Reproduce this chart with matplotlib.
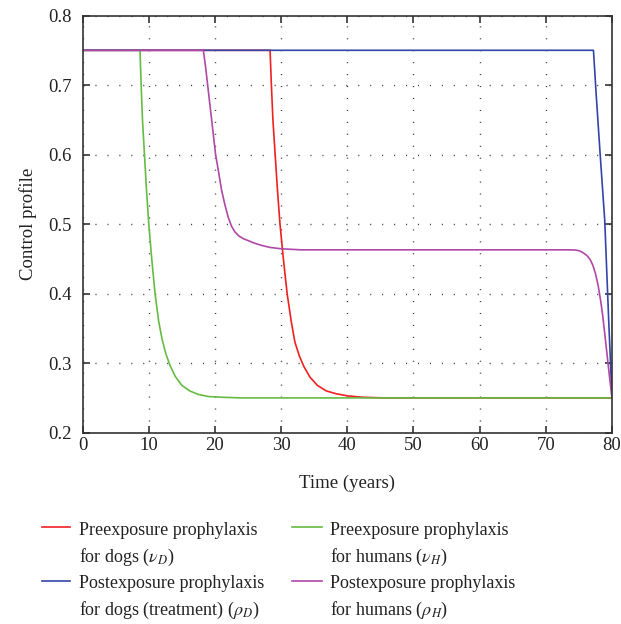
import matplotlib
matplotlib.use("Agg")
import matplotlib.pyplot as plt
from matplotlib.lines import Line2D

plt.rcParams['font.family'] = ['Liberation Serif', 'DejaVu Serif']
plt.rcParams['mathtext.fontset'] = 'stix'

# values
red_x = [0, 28.33, 28.53, 28.76, 29.1, 29.44, 29.83, 30.34, 30.91, 31.53, 32.09, 32.77,
         33.45, 34.35, 35.48, 36.84, 38.31, 40.0, 42.26, 45.6, 80]
red_y = [0.75, 0.75, 0.70, 0.65, 0.60, 0.55, 0.50, 0.45, 0.40, 0.36, 0.33, 0.31,
         0.295, 0.28, 0.268, 0.26, 0.256, 0.253, 0.251, 0.25, 0.25]

green_x = [0, 8.67, 8.85, 9.05, 9.35, 9.65, 10.0, 10.45, 10.95, 11.5, 12.0, 12.6, 13.2,
           14.0, 15.0, 16.2, 17.5, 19.0, 21.0, 24.0, 80]
green_y = [0.75, 0.75, 0.70, 0.65, 0.60, 0.55, 0.50, 0.45, 0.40, 0.36, 0.335, 0.313, 0.297,
           0.281, 0.268, 0.26, 0.255, 0.252, 0.251, 0.25, 0.25]

blue_x = [0, 77.2, 77.6, 78.2, 78.9, 79.5, 80]
blue_y = [0.75, 0.75, 0.688, 0.602, 0.506, 0.362, 0.25]

purple_x = [0, 18.25, 18.6, 18.9, 19.5, 20.1, 20.55, 21.0, 21.5, 22.0, 22.5, 23.0, 23.6,
            24.3, 25.1, 26.0, 27.0, 28.3, 30, 33, 73.5, 74.4, 75.0, 75.6, 76.2, 76.7,
            77.1, 77.5, 77.9, 78.3, 78.6, 78.9, 79.2, 79.5, 79.75, 80]
purple_y = [0.75, 0.75, 0.725, 0.70, 0.65, 0.60, 0.575, 0.549, 0.528, 0.510, 0.497, 0.489, 0.483,
            0.479, 0.476, 0.4725, 0.4695, 0.4665, 0.4645, 0.463, 0.463, 0.4628, 0.4618, 0.459,
            0.455, 0.449, 0.441, 0.429, 0.412, 0.389, 0.368, 0.343, 0.317, 0.291, 0.27, 0.25]

labels = [["Preexposure prophylaxis", r"for dogs ($\nu_D$)"],
          ["Postexposure prophylaxis", r"for dogs (treatment) ($\rho_D$)"],
          ["Preexposure prophylaxis", r"for humans ($\nu_H$)"],
          ["Postexposure prophylaxis", r"for humans ($\rho_H$)"]]
colors = ['#f02020', '#3344aa', '#66bb44', '#b048a8']

fig = plt.figure(figsize=(6.21, 6.24), dpi=100)
ax = fig.add_axes([0.133, 0.3066, 0.8525, 0.6685])

ax.plot(red_x, red_y, color=colors[0], lw=1.2)
ax.plot(green_x, green_y, color=colors[2], lw=1.2)
ax.plot(blue_x, blue_y, color=colors[1], lw=1.2)
ax.plot(purple_x, purple_y, color=colors[3], lw=1.2)

ax.set_xlim(0, 80)
ax.set_ylim(0.2, 0.8)
ax.set_xticks(range(0, 81, 10))
ax.set_yticks([0.2, 0.3, 0.4, 0.5, 0.6, 0.7, 0.8])
ax.set_yticklabels(['0.2', '0.3', '0.4', '0.5', '0.6', '0.7', '0.8'])
ax.grid(True, color='#444444', linestyle=(0, (0.8, 7.8)), linewidth=1.0)
ax.tick_params(direction='in', top=True, right=True, length=5, width=1.2,
               color='#333333', labelsize=13.5, labelcolor='#222222')
ax.tick_params(axis='x', pad=3)
ax.tick_params(axis='y', pad=8)
for s in ax.spines.values():
    s.set_color('#333333')
    s.set_linewidth(1.2)

ax.set_xlabel("Time (years)", fontsize=13.5, color='#222222', labelpad=15)
ax.set_ylabel("Control profile", fontsize=13.5, color='#222222', labelpad=8)

# legend drawn by hand: handle level with the first line of each label
W, H = 621.0, 624.0
hx = [(42, 70), (42, 70), (292, 322), (292, 322)]
tx = [79, 79, 330, 330]
hy = [527, 581, 527, 581]
base = [535, 588.5, 535, 588.5]
for i in range(4):
    fig.add_artist(Line2D([hx[i][0] / W, hx[i][1] / W], [1 - hy[i] / H, 1 - hy[i] / H],
                          color=colors[i], lw=1.2, transform=fig.transFigure))
    fig.text(tx[i] / W, 1 - base[i] / H, labels[i][0], fontsize=13, color='#222222',
             va='baseline', ha='left')
    fig.text(tx[i] / W, 1 - (base[i] + 26.7) / H, labels[i][1], fontsize=13, color='#222222',
             va='baseline', ha='left')

fig.savefig("out.png", dpi=100)
